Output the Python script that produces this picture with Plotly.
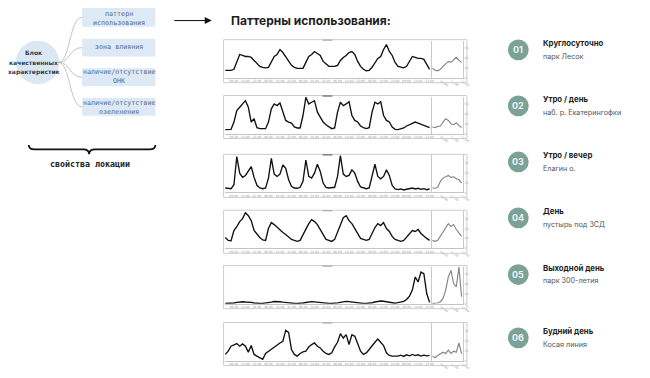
import plotly.graph_objects as go

# ------------------------------------------------------------------ data
hours_left = list(range(0, 144, 2))    # six days, 2-hour steps
hours_right = list(range(0, 24, 2))    # one extra day, 2-hour steps

left_tick_hours = [h + 24 * d for d in range(6) for h in (6, 14, 22)]
left_tick_labels = ["06:00", "14:00", "22:00"] * 6
right_tick_hours = [6, 14, 22]
right_tick_labels = ["06:00", "14:00", "22:00"]
y_tick_vals = [0, 10, 20, 30]
y_tick_labels = ["0", "10", "20", "30"]

pattern_numbers = ["01", "02", "03", "04", "05", "06"]
pattern_titles = ["Круглосуточно", "Утро / день", "Утро / вечер", "День",
                  "Выходной день", "Будний день"]
pattern_places = ["парк Лесок", "наб. р. Екатерингофки", "Елагин о.",
                  "пустырь под ЗСД", "парк 300-летия", "Косая линия"]

block_lines = ["Блок", "качественных", "характеристик"]
block_boxes = [["паттерн", "использования"], ["зона влияния"],
               ["наличие/отсутствие", "ОНК"], ["наличие/отсутствие", "озеленения"]]
brace_caption = "свойства локации"
main_title = "Паттерны использования:"

p1_left = [7.5, 7.5, 7.5, 8.5, 16.5, 23.5, 22.5, 21.5, 21.5, 20.5, 17.5, 14.5,
           11.5, 10.5, 10, 10.5, 16.5, 21.5, 23.5, 28.5, 25.5, 21.5, 16.5, 12.5,
           10.5, 9.5, 9.5, 9.5, 15.5, 21.5, 23.5, 26.5, 24.5, 22.5, 16.5, 13.5,
           11.5, 11.5, 11.5, 12.5, 17.5, 20.5, 22.5, 25.5, 26.5, 23.5, 16.5, 11.5,
           8.5, 7, 7.5, 10.5, 15.5, 19.5, 21.5, 28.5, 33.5, 26.5, 22.5, 15.5,
           11.5, 10.5, 10, 11.5, 16.5, 21.5, 20.5, 19.5, 19.5, 18.5, 13.5, 8.5]
p1_right = [9.5, 7.5, 7, 8.5, 11.5, 14.5, 16.5, 15.5, 18.5, 20.5, 17.5, 15.5]

p2_left = [4, 4, 4.3, 11.7, 23.3, 26.7, 30, 33.3, 26.7, 11.7, 15, 6,
           5, 4.7, 5, 11.7, 25, 30, 28.3, 31, 21.7, 13.3, 11.7, 10.7,
           6.7, 5.7, 5.7, 18.3, 36.7, 30, 31.7, 33.3, 21.7, 16.7, 11.7, 9,
           6.7, 5, 5.7, 21.7, 31.7, 28.3, 30, 32.3, 18.3, 13.3, 11.7, 7.7,
           6, 5, 6, 21.7, 31.7, 30, 32.3, 18.3, 13.3, 11.7, 6.7, 4.3,
           4, 4.7, 5.7, 7.7, 9, 10.3, 11.7, 10.7, 9.7, 8.3, 7.3, 6]
p2_right = [6.7, 6, 7.3, 7.7, 11.7, 15, 13.3, 10, 9, 10.7, 8.3, 6]

p3_left = [4.5, 4.5, 3.8, 7.8, 36.2, 19.5, 15.2, 17.2, 21.2, 26.2, 15.2, 7.2,
           4.5, 3.8, 4.5, 14.5, 34.5, 18.5, 16.2, 18.5, 27.8, 24.5, 12.8, 6.2,
           4.5, 4.2, 5.2, 11.2, 32.8, 16.2, 14.5, 19.5, 28.5, 21.2, 9.5, 5.2,
           4.5, 4.5, 5.2, 16.2, 37.2, 18.5, 16.2, 17.2, 22.8, 19.5, 11.2, 5.5,
           4.5, 3.8, 4.5, 17.8, 28.5, 16.2, 13.8, 16.2, 22.8, 17.2, 7.2, 3.5,
           2.8, 3.5, 2.5, 3.2, 3.8, 4.5, 3.5, 4.2, 3.2, 3.8, 2.8, 3.5]
p3_right = [4.5, 4.2, 5.2, 11.2, 14.5, 15.8, 17.2, 15.2, 15.8, 13.8, 12.8, 9.5]

p4_left = [11, 8, 7.7, 18, 22, 27, 30, 36, 33, 28, 18, 14,
           11, 8.5, 8, 20, 26, 24, 21, 19, 16, 14, 11, 9,
           8, 7, 8, 14, 20, 25, 29, 27, 24, 19, 13, 9,
           8, 7, 9, 16, 24, 31, 33, 28, 25, 20, 14, 10,
           9, 8, 9, 15, 21, 25, 23, 26, 20, 17, 12, 9,
           8, 7, 8, 11, 15, 18, 17, 19, 15, 12, 10, 8]
p4_right = [8, 7, 8, 12, 17, 21, 25, 22, 24, 19, 15, 12]

p5_left = [0.3, 0.3, 0.3, 0.7, 1.3, 2, 2, 1.7, 1.7, 1.3, 0.7, 0.3,
           0.3, 0.3, 0.5, 0.8, 1.5, 2.2, 2.3, 2, 1.6, 1.2, 0.7, 0.4,
           0.3, 0.3, 0.3, 0.7, 1.2, 1.8, 2.1, 1.9, 1.5, 1.0, 0.6, 0.3,
           0.3, 0.3, 0.4, 0.9, 1.4, 2.0, 2.4, 2.1, 1.7, 1.1, 0.6, 0.3,
           0.3, 0.4, 0.5, 1.0, 1.7, 2.4, 2.7, 2.5, 2.0, 1.3, 0.8, 0.5,
           1, 1.7, 2.3, 4.3, 7.7, 13.7, 27, 22, 32, 30.3, 10.3, 1.3]
p5_right = [0.3, 0.3, 0.7, 2, 5.3, 13.7, 27, 33.7, 20.3, 17, 37, 7]

p6_left = [6.2, 9.5, 14.5, 16.2, 17.2, 14.5, 16.8, 14.5, 8.5, 15.2, 6.2, 4.5,
           2.8, 1.2, 7.2, 9.5, 11.2, 13.8, 16.2, 17.8, 19.5, 30.5, 28.5, 11.2,
           6.2, 4.5, 7.2, 8.8, 9.5, 13.8, 16.2, 17.8, 14.5, 12.8, 9.5, 7.2,
           6.2, 7.8, 13.8, 18.5, 27.2, 22.8, 26.2, 16.2, 26.2, 24.5, 17.2, 9.5,
           6.2, 7.8, 11.2, 15.2, 18.5, 21.8, 18.5, 15.2, 7.8, 5.2, 4.5, 4.5,
           4.5, 5.5, 4.2, 5.8, 4.8, 6.2, 5.0, 5.8, 4.5, 5.5, 4.8, 5.2]
p6_right = [4.5, 2.8, 5.2, 7.2, 8.5, 7.2, 10.5, 7.2, 9.5, 8.5, 17.8, 6.8]

series_left = [p1_left, p2_left, p3_left, p4_left, p5_left, p6_left]
series_right = [p1_right, p2_right, p3_right, p4_right, p5_right, p6_right]

# ------------------------------------------------------------------ layout helpers
# The page body has an 8px margin, so the figure is sized to fit inside it and all
# positions below are given in window pixels, shifted by that margin.
OFF = 8
W, H = 650 - 2 * OFF, 378 - 2 * OFF


def fx(x):
    return (x - OFF) / W


def fy(y):
    return 1 - (y - OFF) / H


panel_tops = [40, 96.5, 156, 212.5, 268.5, 326]
LEFT_X0, DIV_X, RIGHT_X1 = 227, 436.5, 468
BOX_X0, BOX_X1 = 226, 472

fig = go.Figure()
layout_axes = {}
shapes = []
annotations = []

tickfont = dict(size=3, color="#9a9a9a", family="DejaVu Sans")

for k in range(6):
    T = panel_tops[k]
    ydom = [fy(T + 38.5), fy(T + 1)]
    li, ri = 2 * k + 1, 2 * k + 2
    lx = "x" if li == 1 else f"x{li}"
    ly = "y" if li == 1 else f"y{li}"
    rx, ry = f"x{ri}", f"y{ri}"
    fig.add_trace(go.Scatter(x=hours_left, y=series_left[k], mode="lines",
                             line=dict(color="#111111", width=1.35),
                             xaxis=lx, yaxis=ly, hoverinfo="skip"))
    fig.add_trace(go.Scatter(x=hours_right, y=series_right[k], mode="lines",
                             line=dict(color="#858585", width=1.15),
                             xaxis=rx, yaxis=ry, hoverinfo="skip"))
    kl = "xaxis" if li == 1 else f"xaxis{li}"
    kyl = "yaxis" if li == 1 else f"yaxis{li}"
    layout_axes[kl] = dict(domain=[fx(LEFT_X0), fx(DIV_X)], anchor=ly,
                           range=[-0.5, 143.5], showgrid=False, zeroline=False,
                           showline=True, linecolor="#c4c4c4", linewidth=1,
                           tickvals=left_tick_hours, ticktext=left_tick_labels,
                           tickfont=tickfont, ticks="")
    layout_axes[kyl] = dict(domain=ydom, anchor=lx, range=[0, 37.5],
                            showgrid=False, zeroline=False, showline=False,
                            showticklabels=False)
    layout_axes[f"xaxis{ri}"] = dict(domain=[fx(DIV_X), fx(RIGHT_X1)], anchor=ry,
                                     range=[-0.5, 23], showgrid=False, zeroline=False,
                                     showline=True, linecolor="#c4c4c4", linewidth=1,
                                     tickvals=right_tick_hours, ticktext=right_tick_labels,
                                     tickfont=tickfont, ticks="")
    layout_axes[f"yaxis{ri}"] = dict(domain=ydom, anchor=rx, range=[0, 37.5], side="right",
                                     showgrid=False, zeroline=False, showline=True,
                                     mirror=True, linecolor="#c9c9c9", linewidth=1,
                                     tickvals=y_tick_vals, ticktext=y_tick_labels,
                                     tickfont=tickfont, ticks="")
    # panel frame
    shapes.append(dict(type="rect", xref="paper", yref="paper",
                       x0=fx(BOX_X0), x1=fx(BOX_X1), y0=fy(T + 43.5), y1=fy(T),
                       line=dict(color="#cdcdcd", width=1), fillcolor="rgba(0,0,0,0)"))
    # tiny chart title mark at top centre
    shapes.append(dict(type="line", xref="paper", yref="paper",
                       x0=fx(326), x1=fx(336), y0=fy(T + 0.5), y1=fy(T + 0.5),
                       line=dict(color="#666" if k in (1, 2) else "#aaa", width=1.2)))

# ------------------------------------------------------------------ title + arrow
annotations.append(dict(text=f"<b>{main_title}</b>", x=fx(231), y=fy(20.7),
                        xref="paper", yref="paper", xanchor="left", yanchor="middle",
                        showarrow=False, font=dict(family="Inter", size=12, color="#1e1e1e")))
annotations.append(dict(text="", x=fx(214), y=fy(20.7), xref="paper", yref="paper",
                        ax=-39, ay=0, showarrow=True, arrowhead=2, arrowsize=1.4,
                        arrowwidth=1, arrowcolor="#111"))

# ------------------------------------------------------------------ right list
title_y = [43.3, 100, 156.7, 213.3, 270.5, 334.5]
for k in range(6):
    ty = title_y[k]
    cy = ty + 7
    shapes.append(dict(type="circle", xref="paper", yref="paper",
                       x0=fx(513.5), x1=fx(534.5), y0=fy(cy + 10.5), y1=fy(cy - 10.5),
                       fillcolor="#7aa296", line=dict(width=0)))
    annotations.append(dict(text=f"<b>{pattern_numbers[k]}</b>", x=fx(524), y=fy(cy),
                            xref="paper", yref="paper", xanchor="center", yanchor="middle",
                            showarrow=False,
                            font=dict(family="Inter", size=9, color="#eef4f8")))
    annotations.append(dict(text=f"<b>{pattern_titles[k]}</b>", x=fx(547), y=fy(ty),
                            xref="paper", yref="paper", xanchor="left", yanchor="middle",
                            showarrow=False, font=dict(family="Inter", size=7.8, color="#1d1d1d")))
    annotations.append(dict(text=pattern_places[k], x=fx(547), y=fy(ty + 13.5),
                            xref="paper", yref="paper", xanchor="left", yanchor="middle",
                            showarrow=False, font=dict(family="Inter", size=7.2, color="#555")))

# ------------------------------------------------------------------ left diagram
shapes.append(dict(type="circle", xref="paper", yref="paper",
                   x0=fx(16), x1=fx(60), y0=fy(85), y1=fy(41),
                   fillcolor="#dbe8f4", line=dict(width=0), layer="below"))
for t, yy in zip(block_lines, [53, 63, 73]):
    annotations.append(dict(text=f"<b>{t}</b>", x=fx(34), y=fy(yy), xref="paper", yref="paper",
                            xanchor="center", yanchor="middle", showarrow=False,
                            font=dict(family="DejaVu Sans", size=6.0, color="#2d3f58")))

box_rows = [(8, 27), (39, 57), (69, 87), (99, 117)]
line_ys = [[14, 23.3], [47.5], [72.7, 81.7], [104, 112.7]]
for (y0, y1), lines, lys in zip(box_rows, block_boxes, line_ys):
    shapes.append(dict(type="rect", xref="paper", yref="paper",
                       x0=fx(83), x1=fx(157), y0=fy(y1), y1=fy(max(y0, OFF)),
                       fillcolor="#dde9f4", line=dict(width=0), layer="below"))
    ym = (y0 + y1) / 2
    path = (f"M {fx(59)},{fy(63)} C {fx(71)},{fy(63)} {fx(70)},{fy(ym)} {fx(83)},{fy(ym)}")
    shapes.append(dict(type="path", xref="paper", yref="paper", path=path,
                       line=dict(color="#b5b5b5", width=0.8)))
    for t, ly in zip(lines, lys):
        annotations.append(dict(text=t, x=fx(120), y=fy(ly), xref="paper", yref="paper",
                                xanchor="center", yanchor="middle", showarrow=False,
                                font=dict(family="DejaVu Sans Mono", size=6.7, color="#5b6b7d")))

brace = (f"M {fx(29)},{fy(146.5)} Q {fx(29)},{fy(151)} {fx(35)},{fy(151)} "
         f"L {fx(84)},{fy(151)} Q {fx(90)},{fy(151)} {fx(90)},{fy(156)} "
         f"Q {fx(90)},{fy(151)} {fx(96)},{fy(151)} L {fx(151)},{fy(151)} "
         f"Q {fx(157)},{fy(151)} {fx(157)},{fy(146.5)}")
shapes.append(dict(type="path", xref="paper", yref="paper", path=brace,
                   line=dict(color="#111", width=1.8)))
annotations.append(dict(text=f"<b>{brace_caption}</b>", x=fx(91), y=fy(166),
                        xref="paper", yref="paper", xanchor="center", yanchor="middle",
                        showarrow=False,
                        font=dict(family="DejaVu Sans Mono", size=8.3, color="#222")))

fig.update_layout(width=W, height=H, margin=dict(l=0, r=0, t=0, b=0),
                  paper_bgcolor="white", plot_bgcolor="white", showlegend=False,
                  shapes=shapes, annotations=annotations, **layout_axes)

fig.write_html("out.html")
